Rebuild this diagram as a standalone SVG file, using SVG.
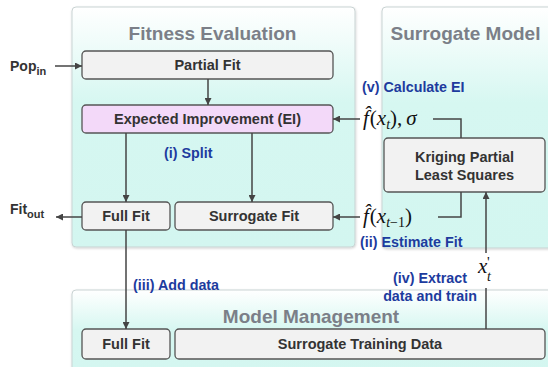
<svg xmlns="http://www.w3.org/2000/svg" width="548" height="367" viewBox="0 0 548 367">
<defs>
<linearGradient id="gTop" x1="0" y1="0" x2="0" y2="1">
<stop offset="0" stop-color="#ffffff"/>
<stop offset="0.4" stop-color="#d6f7f1"/>
<stop offset="1" stop-color="#d3f6f0"/>
</linearGradient>
<linearGradient id="gBot" x1="0" y1="0" x2="0" y2="1">
<stop offset="0" stop-color="#ffffff"/>
<stop offset="0.45" stop-color="#d6f7f1"/>
<stop offset="1" stop-color="#d3f6f0"/>
</linearGradient>
<marker id="ah" viewBox="0 0 10 10" refX="10" refY="5" markerWidth="7" markerHeight="7" markerUnits="userSpaceOnUse" orient="auto">
<path d="M0,0 L10,5 L0,10 z" fill="#444"/>
</marker>
<filter id="sh" x="-5%" y="-5%" width="110%" height="110%">
<feDropShadow dx="0.5" dy="1" stdDeviation="1" flood-color="#000" flood-opacity="0.18"/>
</filter>
</defs>
<style>
.panel{stroke:#c9d3d3;stroke-width:1;filter:url(#sh)}
.title{font-family:"Liberation Sans",Arial,sans-serif;font-weight:bold;font-size:19px;fill:#7b7f88;text-anchor:middle}
.box{fill:#f2f2f2;stroke:#555;stroke-width:1.3}
.ei{fill:#f3d9f9;stroke:#555;stroke-width:1.3}
.lbl{font-family:"Liberation Sans",Arial,sans-serif;font-weight:bold;font-size:14.5px;fill:#333;text-anchor:middle}
.blue{font-family:"Liberation Sans",Arial,sans-serif;font-weight:bold;font-size:14.3px;fill:#1d3b9e}
.io{font-family:"Liberation Sans",Arial,sans-serif;font-weight:bold;font-size:14px;fill:#333}
.math{font-family:"Liberation Serif","Times New Roman",serif;font-size:21px;fill:#111}
.conn{stroke:#444;stroke-width:1.5;fill:none}
</style>

<g id="panel-fitness">
<rect class="panel" x="72" y="7" width="283" height="240" rx="4" fill="url(#gTop)"/>
<text class="title" x="212.5" y="40">Fitness Evaluation</text>
</g>
<g id="panel-surrogate">
<rect class="panel" x="382" y="7" width="172" height="241" rx="4" fill="url(#gTop)"/>
<text class="title" x="465.5" y="40">Surrogate Model</text>
</g>
<g id="panel-management">
<rect class="panel" x="72" y="290" width="482" height="90" rx="4" fill="url(#gBot)"/>
<text class="title" x="311" y="323">Model Management</text>
</g>

<g id="node-partial-fit">
<rect class="box" x="82" y="51" width="251" height="28" rx="4"/>
<text class="lbl" x="207.5" y="70">Partial Fit</text>
</g>
<g id="node-ei">
<rect class="ei" x="82" y="105" width="251" height="28" rx="4"/>
<text class="lbl" x="207.5" y="124">Expected Improvement (EI)</text>
</g>
<g id="node-full-fit">
<rect class="box" x="82" y="202" width="88" height="28" rx="4"/>
<text class="lbl" x="126" y="221">Full Fit</text>
</g>
<g id="node-surrogate-fit">
<rect class="box" x="175" y="202" width="158" height="28" rx="4"/>
<text class="lbl" x="254" y="221">Surrogate Fit</text>
</g>
<g id="node-kriging">
<rect class="box" x="384" y="138" width="161" height="54" rx="4"/>
<text class="lbl" x="464.5" y="162">Kriging Partial</text>
<text class="lbl" x="464.5" y="180">Least Squares</text>
</g>
<g id="node-full-fit-2">
<rect class="box" x="82" y="329" width="88" height="30" rx="4"/>
<text class="lbl" x="126" y="349">Full Fit</text>
</g>
<g id="node-training-data">
<rect class="box" x="175" y="329" width="370" height="30" rx="4"/>
<text class="lbl" x="360" y="349">Surrogate Training Data</text>
</g>

<g id="connectors">
<line class="conn" x1="55" y1="66" x2="82" y2="66" marker-end="url(#ah)"/>
<line class="conn" x1="82" y1="217" x2="56" y2="217" marker-end="url(#ah)"/>
<line class="conn" x1="208" y1="79" x2="208" y2="105" marker-end="url(#ah)"/>
<line class="conn" x1="126" y1="133" x2="126" y2="202" marker-end="url(#ah)"/>
<line class="conn" x1="252" y1="133" x2="252" y2="202" marker-end="url(#ah)"/>
<line class="conn" x1="126" y1="230" x2="126" y2="329" marker-end="url(#ah)"/>
<polyline class="conn" points="433,119 461,119 461,138"/>
<line class="conn" x1="360" y1="119" x2="333" y2="119" marker-end="url(#ah)"/>
<polyline class="conn" points="461,192 461,217 438,217"/>
<line class="conn" x1="360" y1="217" x2="333" y2="217" marker-end="url(#ah)"/>
<line class="conn" x1="486" y1="329" x2="486" y2="288"/>
<line class="conn" x1="486" y1="253" x2="486" y2="192" marker-end="url(#ah)"/>
</g>

<g id="labels">
<text class="io" x="10" y="71">Pop<tspan font-size="11" dy="4">in</tspan></text>
<text class="io" x="10" y="214">Fit<tspan font-size="11" dy="4">out</tspan></text>
<text class="blue" x="164" y="158">(i) Split</text>
<text class="blue" x="362" y="92">(v) Calculate EI</text>
<text class="blue" x="360" y="247">(ii) Estimate Fit</text>
<text class="blue" x="133" y="290">(iii) Add data</text>
<text class="blue" x="430" y="283" text-anchor="middle">(iv) Extract</text>
<text class="blue" x="430" y="301" text-anchor="middle">data and train</text>
<text class="math" x="363" y="125"><tspan font-style="italic">f̂</tspan><tspan dx="1">(</tspan><tspan font-style="italic">x</tspan><tspan font-style="italic" font-size="14" dy="4">t</tspan><tspan dy="-4">),</tspan><tspan font-style="italic" dx="4">σ</tspan></text>
<text class="math" x="363" y="223"><tspan font-style="italic">f̂</tspan><tspan dx="1">(</tspan><tspan font-style="italic">x</tspan><tspan font-size="14" dy="4"><tspan font-style="italic">t</tspan>−1</tspan><tspan dy="-4">)</tspan></text>
<text class="math" x="478" y="273" font-size="20"><tspan font-style="italic">x</tspan><tspan font-size="15" x="487" y="267">'</tspan><tspan font-size="14" font-style="italic" x="487" y="281">t</tspan></text>
</g>
</svg>
